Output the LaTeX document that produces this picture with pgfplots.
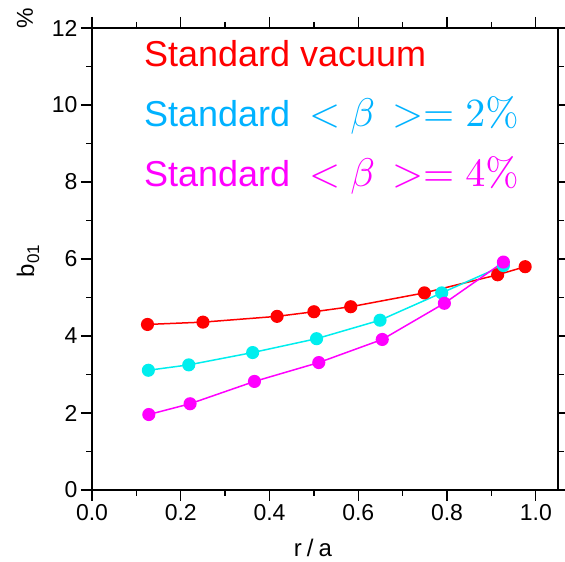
\RequirePackage{fix-cm}
\documentclass[border=0pt]{standalone}
\usepackage[no-math]{fontspec}
\setmainfont{Liberation Sans}
\usepackage{graphicx}
\usepackage{pgfplots}
\pgfplotsset{compat=1.18}
\definecolor{cred}{RGB}{255,0,0}
\definecolor{ccyan}{RGB}{0,238,238}
\definecolor{ctext}{RGB}{0,178,255}
\definecolor{cmag}{RGB}{255,0,255}
\newcommand{\M}[1]{\scalebox{4}{\fontsize{10}{10}\selectfont$#1$}}
\newcommand{\BetaLine}[1]{Standard\hspace{19pt}\M{\mathord{<}}\hspace{10pt}\M{\beta}\hspace{17pt}\M{\mathord{>}\mathord{=}}\hspace{11pt}\M{\mathrm{#1\%}}}
\begin{document}
\begin{tikzpicture}
\useasboundingbox (0,0) rectangle (565pt,562pt);
\begin{axis}[
  at={(92pt,72pt)}, anchor=south west,
  scale only axis, width=466pt, height=462pt,
  xmin=0, xmax=1.05, ymin=0, ymax=12,
  xtick={0,0.2,0.4,0.6,0.8,1.0},
  ytick={0,2,4,6,8,10,12},
  minor x tick num=1, minor y tick num=1,
  tick align=outside,
  major tick length=11pt, minor tick length=6pt,
  axis line style={line width=1.5pt},
  every tick/.style={black, line width=1.3pt},
  /pgf/number format/assume math mode=true,
  xticklabel style={/pgf/number format/.cd, fixed, fixed zerofill, precision=1},
  yticklabel style={/pgf/number format/.cd, fixed, precision=0},
  ticklabel style={font=\fontsize{23}{23}\selectfont},
  clip=false,
]
\addplot[cred, line width=1.5pt, mark=*, mark size=5.8pt, mark options={solid, fill=cred, draw=cred}] coordinates {
 (0.125,4.30) (0.250,4.36) (0.417,4.51) (0.500,4.63) (0.583,4.76) (0.749,5.12) (0.914,5.59) (0.976,5.80)
};
\addplot[ccyan, line width=1.5pt, mark=*, mark size=5.8pt, mark options={solid, fill=ccyan, draw=ccyan}] coordinates {
 (0.127,3.11) (0.218,3.25) (0.362,3.57) (0.506,3.93) (0.649,4.41) (0.788,5.12) (0.927,5.83)
};
\addplot[cmag, line width=1.5pt, mark=*, mark size=5.8pt, mark options={solid, fill=cmag, draw=cmag}] coordinates {
 (0.128,1.96) (0.221,2.24) (0.366,2.82) (0.511,3.31) (0.654,3.91) (0.794,4.85) (0.927,5.92)
};
\node[anchor=base west, inner sep=0pt, text=cred, font=\fontsize{36}{36}\selectfont] at (axis cs:0.117,10.99) {Standard vacuum};
\node[anchor=base west, inner sep=0pt, text=ctext, font=\fontsize{36}{36}\selectfont] at (axis cs:0.117,9.44) {\BetaLine{2}};
\node[anchor=base west, inner sep=0pt, text=cmag, font=\fontsize{36}{36}\selectfont] at (axis cs:0.117,7.88) {\BetaLine{4}};
\end{axis}
\node[rotate=90, inner sep=0pt, font=\fontsize{23}{23}\selectfont] at (25pt,544pt) {\%};
\node[rotate=90, inner sep=0pt, font=\fontsize{24}{24}\selectfont] at (28pt,301pt) {b\raisebox{-5pt}{\fontsize{17}{17}\selectfont 01}};
\node[inner sep=0pt, font=\fontsize{24}{24}\selectfont] at (313pt,14pt) {r\hspace{5pt}/\hspace{5pt}a};
\end{tikzpicture}
\end{document}
